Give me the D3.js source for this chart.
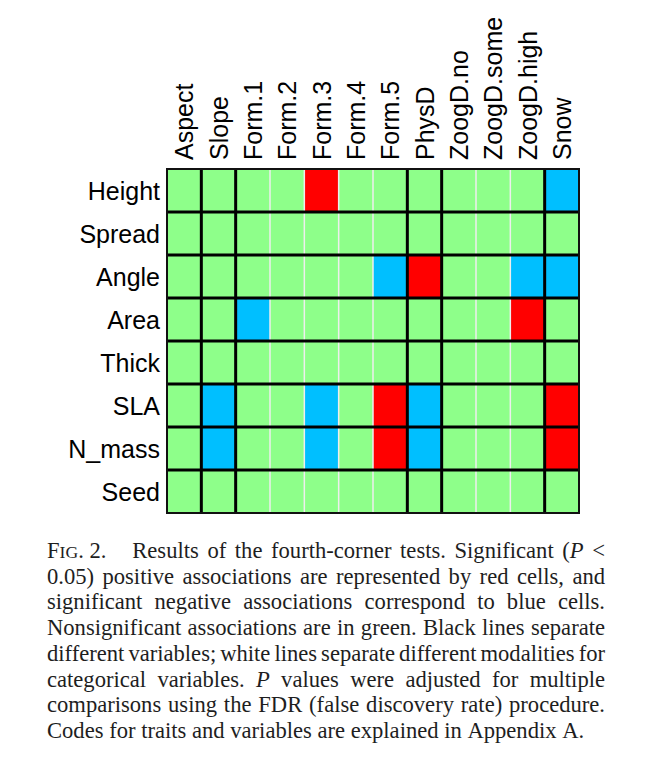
<!DOCTYPE html>
<html><head><meta charset="utf-8">
<script src="https://cdn.jsdelivr.net/npm/d3@7"></script>
<style>
html,body{margin:0;padding:0;background:#fff;}
svg{display:block;}
</style></head>
<body>
<svg id="chart" width="656" height="765"></svg>
<script>
// ---- data ----
const rowLabels = ["Height","Spread","Angle","Area","Thick","SLA","N_mass","Seed"];
const colLabels = ["Aspect","Slope","Form.1","Form.2","Form.3","Form.4","Form.5","PhysD","ZoogD.no","ZoogD.some","ZoogD.high","Snow"];
const colGroups = ["Aspect","Slope","Form","Form","Form","Form","Form","PhysD","ZoogD","ZoogD","ZoogD","Snow"];
// 1 = significant positive (red), -1 = significant negative (blue), 0 = nonsignificant (green)
const rowHeight = [0,0,0,0,1,0,0,0,0,0,0,-1];
const rowSpread = [0,0,0,0,0,0,0,0,0,0,0,0];
const rowAngle  = [0,0,0,0,0,0,-1,1,0,0,-1,-1];
const rowArea   = [0,0,-1,0,0,0,0,0,0,0,1,0];
const rowThick  = [0,0,0,0,0,0,0,0,0,0,0,0];
const rowSLA    = [0,-1,0,0,-1,0,1,-1,0,0,0,1];
const rowNmass  = [0,-1,0,0,-1,0,1,-1,0,0,0,1];
const rowSeed   = [0,0,0,0,0,0,0,0,0,0,0,0];
const matrix = [rowHeight,rowSpread,rowAngle,rowArea,rowThick,rowSLA,rowNmass,rowSeed];
const captionLines = [
  [["FIG. 2.","fig"],["Results"],["of"],["the"],["fourth-corner"],["tests."],["Significant"],["(P","paren-italic"],["<"]],
  [["0.05)"],["positive"],["associations"],["are"],["represented"],["by"],["red"],["cells,"],["and"]],
  [["significant"],["negative"],["associations"],["correspond"],["to"],["blue"],["cells."]],
  [["Nonsignificant"],["associations"],["are"],["in"],["green."],["Black"],["lines"],["separate"]],
  [["different"],["variables;"],["white"],["lines"],["separate"],["different"],["modalities"],["for"]],
  [["categorical"],["variables."],["P","italic"],["values"],["were"],["adjusted"],["for"],["multiple"]],
  [["comparisons"],["using"],["the"],["FDR"],["(false"],["discovery"],["rate)"],["procedure."]],
  [["Codes"],["for"],["traits"],["and"],["variables"],["are"],["explained"],["in"],["Appendix"],["A."]]
];

// ---- layout ----
const svg = d3.select("#chart");
const L = 167, R = 579, T = 169, B = 513;
const x = d3.scaleBand().domain(colLabels).range([L, R]).padding(0);
const y = d3.scaleBand().domain(rowLabels).range([T, B]).padding(0);
const color = d3.scaleOrdinal().domain([1,0,-1]).range(["#ff0000","#8eff8a","#00bfff"]);

const cells = [];
matrix.forEach((row, i) => row.forEach((v, j) => cells.push({r: rowLabels[i], c: colLabels[j], v})));

svg.append("g").selectAll("rect").data(cells).join("rect")
  .attr("x", d => x(d.c)).attr("y", d => y(d.r))
  .attr("width", x.bandwidth()).attr("height", y.bandwidth())
  .attr("fill", d => color(d.v));

// separators
const gl = svg.append("g");
for (let j = 1; j < colLabels.length; j++) {
  const same = colGroups[j] === colGroups[j-1];
  if (same) {
    gl.append("line").attr("x1", x(colLabels[j])).attr("x2", x(colLabels[j]))
      .attr("y1", T).attr("y2", B).attr("stroke", "#eeeeee").attr("stroke-width", 1.5);
  }
}
for (let j = 1; j < colLabels.length; j++) {
  const same = colGroups[j] === colGroups[j-1];
  if (!same) {
    gl.append("line").attr("x1", x(colLabels[j])).attr("x2", x(colLabels[j]))
      .attr("y1", T).attr("y2", B).attr("stroke", "#000").attr("stroke-width", 3);
  }
}
for (let i = 1; i < rowLabels.length; i++) {
  gl.append("line").attr("x1", L).attr("x2", R)
    .attr("y1", y(rowLabels[i])).attr("y2", y(rowLabels[i]))
    .attr("stroke", "#000").attr("stroke-width", 3);
}
gl.append("rect").attr("x", L).attr("y", T).attr("width", R - L).attr("height", B - T)
  .attr("fill", "none").attr("stroke", "#111").attr("stroke-width", 2);

// row labels
svg.append("g").selectAll("text").data(rowLabels).join("text")
  .attr("x", 160).attr("y", d => y(d) + y.bandwidth()/2)
  .attr("dy", "0.36em").attr("text-anchor", "end")
  .attr("font-family", "Liberation Sans, Arial, sans-serif").attr("font-size", 25)
  .attr("fill", "#000").text(d => d);

// column labels
svg.append("g").selectAll("text").data(colLabels).join("text")
  .attr("transform", d => `translate(${x(d) + x.bandwidth()/2},160) rotate(-90)`)
  .attr("dy", "0.36em").attr("text-anchor", "start")
  .attr("font-family", "Liberation Sans, Arial, sans-serif").attr("font-size", 25)
  .attr("fill", "#000").text(d => d);

// caption (justified)
const capL = 47, capR = 605, capY0 = 558, capDY = 25.7, capFS = 22.6;
const cap = svg.append("g").attr("font-family", "Liberation Serif, Times New Roman, serif")
  .attr("font-size", capFS).attr("fill", "#1e1e1e");
captionLines.forEach((line, li) => {
  const yy = capY0 + li * capDY;
  const nodes = line.map(([w, kind]) => {
    const t = cap.append("text").attr("y", yy);
    if (kind === "fig") {
      t.append("tspan").text("F");
      t.append("tspan").attr("font-size", capFS * 0.78).text("IG");
      t.append("tspan").text(". 2.");
    } else if (kind === "paren-italic") {
      t.append("tspan").text("(");
      t.append("tspan").attr("font-style", "italic").text("P");
    } else if (kind === "italic") {
      t.append("tspan").attr("font-style", "italic").text(w);
    } else {
      t.text(w);
    }
    return t;
  });
  const widths = nodes.map(n => n.node().getComputedTextLength());
  const total = d3.sum(widths);
  const last = li === captionLines.length - 1;
  const weights = line.slice(1).map((w, k) => (li === 0 && k === 0) ? 3 : 1);
  const wsum = d3.sum(weights);
  let gap = last ? capFS * 0.25 : Math.max(capFS * 0.15, (capR - capL - total) / wsum);
  let xx = capL;
  nodes.forEach((n, k) => {
    n.attr("x", xx);
    xx += widths[k] + (k < weights.length ? gap * weights[k] : 0);
  });
});
</script>
</body></html>
